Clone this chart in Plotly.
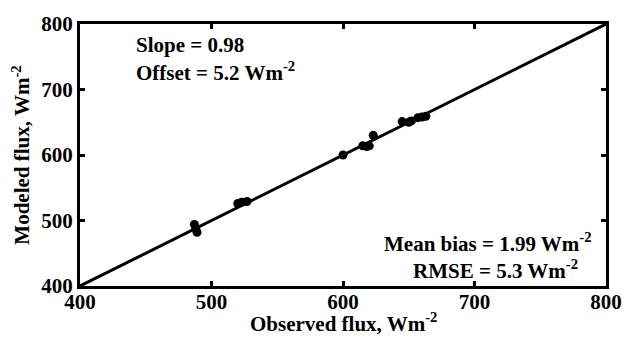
import plotly.graph_objects as go

observed = [487, 488, 489, 520, 523, 527, 600, 615, 618, 620, 623, 645, 650, 652, 657, 660, 663]
modeled = [494, 488, 482, 526, 528, 529, 600, 614, 613, 614, 630, 651, 650, 652, 657, 658, 659]
line_x = [400, 800]
line_y = [400, 800]
tick_vals = [400, 500, 600, 700, 800]
tick_text = ["<b>400</b>", "<b>500</b>", "<b>600</b>", "<b>700</b>", "<b>800</b>"]

FONT = "Liberation Serif"

fig = go.Figure()
fig.add_trace(go.Scatter(x=line_x, y=line_y, mode="lines",
                         line=dict(color="black", width=3), showlegend=False))
fig.add_trace(go.Scatter(x=observed, y=modeled, mode="markers",
                         marker=dict(color="black", size=9), showlegend=False))

ann_font = dict(family=FONT, size=21, color="black")
fig.add_annotation(x=441, y=768, text="<b>Slope = 0.98</b>", showarrow=False,
                   xanchor="left", yanchor="middle", font=ann_font)
fig.add_annotation(x=441, y=727, text="<b>Offset = 5.2 Wm<sup>-2</sup></b>", showarrow=False,
                   xanchor="left", yanchor="middle", font=ann_font)
fig.add_annotation(x=791, y=467, text="<b>Mean bias = 1.99 Wm<sup>-2</sup></b>", showarrow=False,
                   xanchor="right", yanchor="middle", font=ann_font)
fig.add_annotation(x=716, y=425, text="<b>RMSE = 5.3 Wm<sup>-2</sup></b>", showarrow=False,
                   xanchor="center", yanchor="middle", font=ann_font)

# x-axis title placed as paper annotation to sit closer to tick labels
fig.add_annotation(x=0.5, y=-0.14, xref="paper", yref="paper",
                   text="<b>Observed flux, Wm<sup>-2</sup></b>", showarrow=False,
                   xanchor="center", yanchor="middle", font=ann_font)

axis_common = dict(range=[400, 800], tickmode="array", tickvals=tick_vals, ticktext=tick_text,
                   ticks="inside", ticklen=5,
                   tickwidth=2.5, tickcolor="black", showline=True, linecolor="black",
                   linewidth=3, mirror="ticks", showgrid=False, zeroline=False,
                   tickfont=dict(family=FONT, size=21, color="black"))

fig.update_xaxes(**axis_common, ticklabelstandoff=-5)
fig.update_yaxes(**axis_common,
                 title=dict(text="<b>Modeled flux, Wm<sup>-2</sup></b>",
                            font=dict(family=FONT, size=21, color="black"),
                            standoff=6))

fig.update_layout(width=634, height=347, margin=dict(l=80, r=19, t=19, b=61),
                  plot_bgcolor="white", paper_bgcolor="white")

fig.write_html("out.html")
